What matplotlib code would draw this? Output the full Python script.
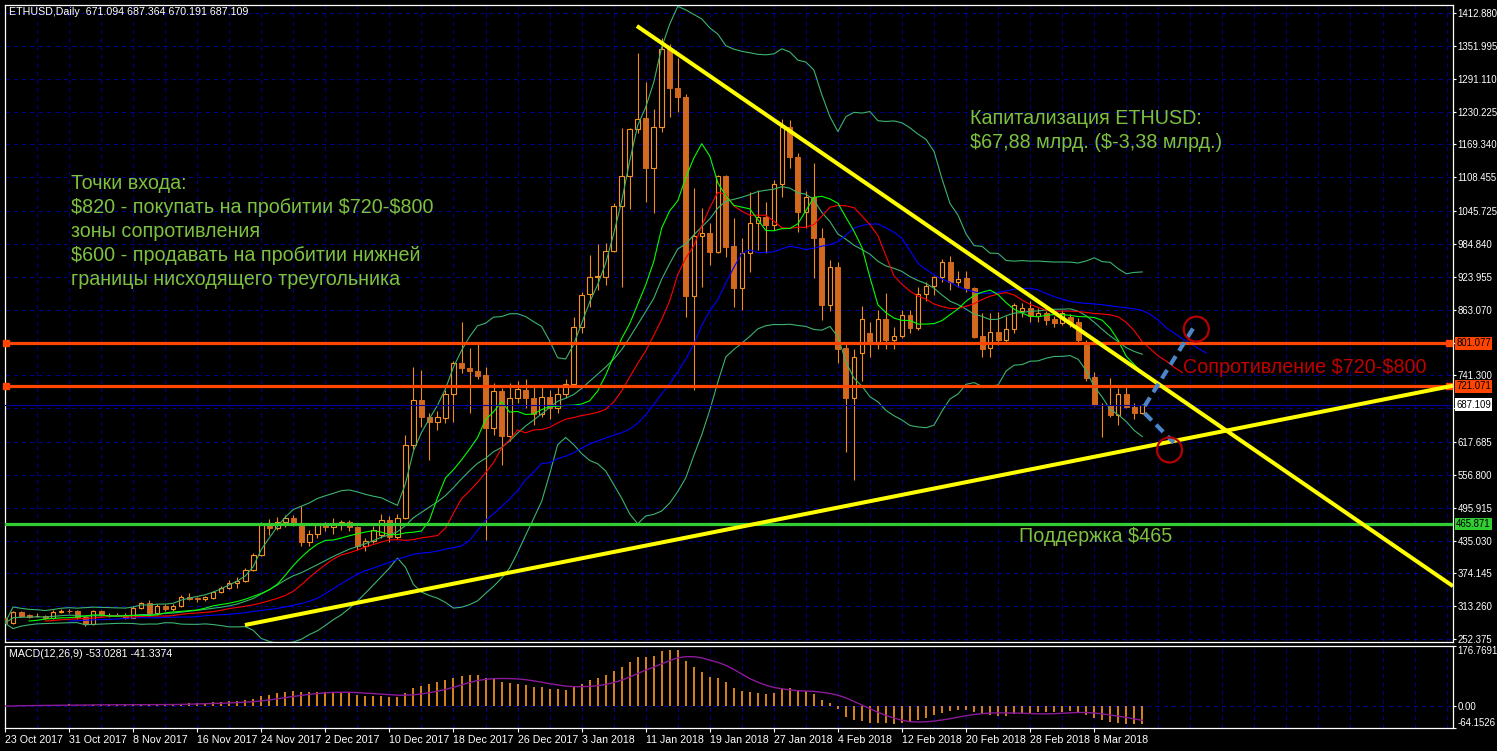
import numpy as np
import pandas as pd
import matplotlib
matplotlib.use("Agg")
import matplotlib.pyplot as plt
from matplotlib.patches import Ellipse
from matplotlib.transforms import blended_transform_factory

# ------------------------------------------------------------------ data
date_labels = ['23 Oct 2017', '31 Oct 2017', '8 Nov 2017', '16 Nov 2017', '24 Nov 2017',
               '2 Dec 2017', '10 Dec 2017', '18 Dec 2017', '26 Dec 2017', '3 Jan 2018',
               '11 Jan 2018', '19 Jan 2018', '27 Jan 2018', '4 Feb 2018', '12 Feb 2018',
               '20 Feb 2018', '28 Feb 2018', '8 Mar 2018']

opens = [291, 282, 302, 297, 295, 296, 292, 302, 305, 304, 293, 280, 304, 298, 297, 298, 292, 310, 319, 300,
         314, 308, 313, 331, 328, 326, 328, 339, 347, 356, 360, 380, 408, 465, 458, 470, 476, 468, 432, 448,
         464, 460, 466, 470, 460, 425, 434, 445, 473, 441, 477, 612, 695, 664, 655, 662, 707, 764, 755, 749,
         742, 643, 712, 629, 700, 714, 699, 670, 702, 681, 707, 725, 831, 892, 923, 923, 972, 1055, 1111, 1198,
         1218, 1126, 1202, 1346, 1274, 1257, 888, 999, 1006, 970, 1110, 981, 903, 968, 1023, 1035, 1020, 1096, 1202, 1146,
         1044, 1072, 996, 872, 942, 792, 699, 783, 820, 800, 846, 806, 815, 853, 829, 892, 907, 923, 952, 914,
         922, 903, 814, 792, 821, 806, 827, 860, 866, 852, 856, 846, 839, 849, 840, 801, 738, 686, 686, 668,
         707, 683, 671.094]
highs = [296, 305, 304, 299, 300, 298, 306, 308, 308, 306, 296, 306, 306, 301, 301, 300, 314, 322, 325, 317,
         317, 318, 335, 338, 331, 333, 342, 350, 362, 368, 384, 412, 470, 475, 478, 482, 482, 500, 455, 468,
         470, 476, 474, 474, 462, 440, 462, 485, 480, 485, 631, 757, 751, 671, 675, 714, 768, 840, 792, 801,
         757, 727, 718, 727, 730, 735, 720, 720, 715, 722, 735, 850, 896, 964, 985, 986, 1061, 1200, 1200, 1339,
         1285, 1235, 1366, 1355, 1329, 1263, 1088, 1051, 1023, 1113, 1113, 1033, 996, 1081, 1085, 1062, 1103, 1216, 1215, 1153,
         1083, 1135, 1014, 955, 951, 800, 790, 870, 840, 862, 894, 830, 862, 862, 905, 915, 925, 957, 962, 935,
         935, 905, 857, 857, 859, 852, 875, 875, 880, 866, 860, 852, 862, 855, 848, 806, 748, 690, 736, 718,
         723, 690, 687.364]
lows = [276, 280, 293, 292, 293, 289, 290, 300, 300, 290, 276, 279, 296, 294, 295, 289, 291, 308, 296, 298,
        305, 304, 312, 325, 322, 324, 327, 337, 345, 348, 358, 378, 406, 445, 455, 460, 462, 425, 425, 440,
        452, 448, 455, 452, 418, 415, 430, 440, 432, 438, 475, 605, 645, 584, 640, 653, 655, 745, 671, 735,
        436, 630, 575, 620, 690, 680, 650, 665, 660, 672, 700, 720, 820, 868, 900, 909, 970, 905, 1050, 1190,
        1063, 1042, 1192, 1220, 1229, 849, 714, 905, 946, 968, 960, 868, 862, 933, 973, 968, 1010, 1072, 1126, 1007,
        1015, 922, 844, 860, 764, 599, 547, 730, 775, 790, 790, 790, 810, 820, 825, 880, 890, 915, 900, 905,
        895, 810, 775, 775, 797, 800, 820, 850, 840, 840, 835, 830, 835, 830, 800, 730, 685, 627, 665, 649,
        680, 660, 670.191]
closes = [282, 302, 295, 294, 296, 291, 302, 305, 304, 293, 280, 304, 298, 297, 298, 292, 310, 319, 300, 314,
          309, 313, 331, 327, 327, 330, 339, 347, 356, 360, 380, 408, 465, 458, 470, 476, 468, 432, 448, 464,
          460, 466, 470, 460, 425, 434, 455, 473, 441, 477, 612, 695, 664, 655, 664, 707, 764, 755, 749, 740,
          643, 712, 629, 700, 716, 699, 670, 702, 681, 707, 725, 831, 890, 923, 925, 972, 1055, 1111, 1198, 1216,
          1126, 1202, 1346, 1274, 1257, 888, 999, 1006, 970, 1110, 979, 903, 968, 1023, 1035, 1020, 1096, 1202, 1146, 1044,
          1072, 996, 872, 942, 790, 699, 775, 846, 800, 846, 806, 815, 853, 829, 892, 907, 923, 952, 914, 919,
          903, 812, 790, 821, 806, 827, 871, 866, 852, 856, 844, 839, 856, 841, 806, 736, 686, 686, 668, 707,
          683, 671, 687.109]

price_ticks = [1412.880, 1351.995, 1291.110, 1230.225, 1169.340, 1108.455, 1045.725, 984.840, 923.955,
               863.070, 802.185, 741.300, 680.415, 617.685, 556.800, 495.915, 435.030, 374.145, 313.260, 252.375]
hidden_ticks = [802.185, 680.415]
resistance_levels = [801.077, 721.071]
support_level = 465.871
bid_price = 687.109
macd_ticks = [176.7691, 0.0, -64.1526]
macd_header_values = [-53.0281, -41.3374]

down_trend_days = [78.9, 180.8]
down_trend_prices = [1388.8, 350.6]
up_trend_days = [29.96, 180.8]
up_trend_prices = [278.6, 722.1]
scenario_up_days = [142.3, 148.35]
scenario_up_prices = [684.5, 828.5]
scenario_down_days = [142.3, 145.95]
scenario_down_prices = [671.0, 616.5]
circle_days = [148.75, 145.4]
circle_prices = [827.0, 603.0]

# ------------------------------------------------------------------ style
plt.rcParams['font.family'] = ['Liberation Sans', 'DejaVu Sans']
W, H = 1497, 751
BG = 'black'
GRID = '#00008B'
WICK = '#F08C1E'
UPEDGE = '#F7931E'
DOWN = '#D2691E'
OR = '#FF4500'
LIME_LINE = '#32CD32'
TXT_GREEN = '#7DC142'
BBC = '#3CB371'
TICKFS = 7.7
YTICKFS = 6.9

fig = plt.figure(figsize=(W / 100, H / 100), dpi=100, facecolor=BG)
ax = fig.add_axes([5 / W, 1 - 642 / H, 1448 / W, 637 / H], facecolor=BG)
axm = fig.add_axes([5 / W, 1 - 728 / H, 1448 / W, 82 / H], facecolor=BG, sharex=ax)

x_max = 180.8
ax.set_xlim(0, x_max)
ax.set_ylim(247.1, 1427.7)
axm.set_ylim(macd_ticks[2], macd_ticks[0])

for a in (ax, axm):
    for sp in a.spines.values():
        sp.set_color('white')
        sp.set_linewidth(0.9)
    for v in np.arange(4, x_max, 4):
        a.axvline(v, color=GRID, lw=0.75, ls=(0, (4, 4)), zorder=0)

for p in price_ticks:
    ax.axhline(p, color=GRID, lw=0.75, ls=(0, (4, 4)), zorder=0)
axm.axhline(0, color=GRID, lw=0.75, ls=(0, (4, 4)), zorder=0)

# ------------------------------------------------------------------ candles
o = np.array(opens, float)
h = np.array(highs, float)
l = np.array(lows, float)
c = np.array(closes, float)
days = np.arange(len(c))
up = c >= o
ax.vlines(days, l, h, color=WICK, lw=0.8, zorder=2)
lo = np.minimum(o, c)
hh = np.abs(c - o)
ax.bar(days[~up], hh[~up], bottom=lo[~up], width=0.62, color=DOWN, edgecolor=DOWN, lw=0.7, zorder=3)
ax.bar(days[up], hh[up], bottom=lo[up], width=0.56, facecolor='black', edgecolor=UPEDGE, lw=0.8, zorder=3)

# ------------------------------------------------------------------ indicators
s = pd.Series(c)
bb_mid = s.rolling(20, min_periods=1).mean()
bb_std = s.rolling(20, min_periods=1).std(ddof=0)
ax.plot(days, bb_mid, color=BBC, lw=0.8, zorder=4)
ax.plot(days, bb_mid + 2 * bb_std, color=BBC, lw=0.8, zorder=4)
ax.plot(days, bb_mid - 2 * bb_std, color=BBC, lw=0.8, zorder=4)

med = (pd.Series(h) + pd.Series(l)) / 2
jaw = med.ewm(alpha=1 / 13, adjust=False).mean()
teeth = med.ewm(alpha=1 / 8, adjust=False).mean()
lips = med.ewm(alpha=1 / 5, adjust=False).mean()
ax.plot(days + 8, jaw, color='#0000FF', lw=0.8, zorder=4)
ax.plot(days + 5, teeth, color='#FF0000', lw=0.8, zorder=4)
ax.plot(days + 3, lips, color='#00FF00', lw=0.8, zorder=4)

# ------------------------------------------------------------------ levels
bt = blended_transform_factory(ax.transAxes, ax.transData)
ax.axhline(bid_price, color='#0000A0', lw=0.8, zorder=4)
for lev in resistance_levels:
    ax.axhline(lev, color=OR, lw=2.3, zorder=5)
    ax.plot([0.001, 0.9975], [lev, lev], 's', ms=4, color=OR, transform=bt, clip_on=False, zorder=6)
ax.axhline(support_level, color=LIME_LINE, lw=2.3, zorder=5)

ax.plot(down_trend_days, down_trend_prices, color='#FFFF00', lw=2.9, zorder=6, solid_capstyle='butt')
ax.plot(up_trend_days, up_trend_prices, color='#FFFF00', lw=2.9, zorder=6, solid_capstyle='butt')
for xs, ys in ((scenario_up_days, scenario_up_prices), (scenario_down_days, scenario_down_prices)):
    ax.plot(xs, ys, color='#4A86C8', lw=3.0, ls=(0, (2.4, 1.5)), zorder=7, dash_capstyle='butt')
for cx, cy in zip(circle_days, circle_prices):
    ax.add_patch(Ellipse((cx, cy), 3.12, 46.3, fill=False, edgecolor='#B40000', lw=1.6, zorder=7))

# ------------------------------------------------------------------ axes ticks
ax.yaxis.tick_right()
ax.set_yticks(price_ticks)
ax.set_yticklabels(['' if p in hidden_ticks else f'{p:.3f}' for p in price_ticks])
ax.tick_params(axis='y', colors='white', labelsize=YTICKFS, length=2.5, width=0.8, pad=0.8)
ax.tick_params(axis='x', bottom=False, labelbottom=False)

box_kw = dict(boxstyle='square,pad=0.15', ec='none')
for lev in resistance_levels:
    ax.text(1.0022, lev, f'{lev:.3f}', transform=bt, va='center', ha='left', fontsize=YTICKFS,
            color='black', bbox=dict(fc=OR, **box_kw), clip_on=False, zorder=10)
ax.text(1.0022, bid_price, f'{bid_price:.3f}', transform=bt, va='center', ha='left', fontsize=YTICKFS,
        color='black', bbox=dict(fc='white', **box_kw), clip_on=False, zorder=10)
ax.text(1.0022, support_level, f'{support_level:.3f}', transform=bt, va='center', ha='left', fontsize=YTICKFS,
        color='black', bbox=dict(fc=LIME_LINE, **box_kw), clip_on=False, zorder=10)

# MACD panel
ema12 = s.ewm(span=12, adjust=False).mean()
ema26 = s.ewm(span=26, adjust=False).mean()
macd = ema12 - ema26
signal = macd.rolling(9, min_periods=1).mean()
axm.vlines(days, 0, macd, color='#FF9A1E', lw=1.2, zorder=2)
axm.plot(days, signal, color='#8B1A9B', lw=1.0, zorder=3)
axm.yaxis.tick_right()
axm.set_yticks(macd_ticks)
axm.set_yticklabels(['176.7691', '0.00', '-64.1526'])
axm.tick_params(axis='y', colors='white', labelsize=YTICKFS, length=2.5, width=0.8, pad=0.8)
tl = axm.get_yticklabels()
tl[0].set_va('top')
tl[2].set_va('bottom')
axm.set_xticks(np.arange(0, 8 * len(date_labels), 8))
axm.set_xticklabels(date_labels)
axm.tick_params(axis='x', colors='white', labelsize=TICKFS, length=3, width=0.8, pad=2)
for t in axm.get_xticklabels():
    t.set_ha('left')

# ------------------------------------------------------------------ texts
def fx(px):
    return (px - 5) / 1448


def fy(py):
    return 1 - (py - 5) / 637


ax.text(fx(9), fy(12), 'ETHUSD,Daily  %.3f %.3f %.3f %.3f' % (opens[-1], highs[-1], lows[-1], closes[-1]),
        transform=ax.transAxes, color='white', fontsize=TICKFS, va='center', ha='left', zorder=10,
        parse_math=False)
axm.text(fx(9), 1 - (654 - 646) / 82, 'MACD(12,26,9) %.4f %.4f' % tuple(macd_header_values),
         transform=axm.transAxes, color='white', fontsize=TICKFS, va='center', ha='left', zorder=10,
         parse_math=False)

entry_lines = ['Точки входа:', '$820 - покупать на пробитии $720-$800', 'зоны сопротивления',
               '$600 - продавать на пробитии нижней', 'границы нисходящего треугольника']
for i, line in enumerate(entry_lines):
    ax.text(fx(71), fy(189 + 24 * i), line, transform=ax.transAxes, color=TXT_GREEN, fontsize=14.2,
            va='baseline', ha='left', zorder=9, parse_math=False)
cap_lines = ['Капитализация ETHUSD:', '$67,88 млрд. ($-3,38 млрд.)']
for i, line in enumerate(cap_lines):
    ax.text(fx(970), fy(124 + 24 * i), line, transform=ax.transAxes, color=TXT_GREEN, fontsize=14.2,
            va='baseline', ha='left', zorder=9, parse_math=False)
ax.text(fx(1183), fy(373), 'Сопротивление $720-$800', transform=ax.transAxes, color='#C00000', fontsize=14.2,
        va='baseline', ha='left', zorder=9, parse_math=False)
ax.text(fx(1019), fy(542), 'Поддержка $465', transform=ax.transAxes, color=TXT_GREEN, fontsize=14.2,
        va='baseline', ha='left', zorder=9, parse_math=False)

fig.savefig('out.png', dpi=100, facecolor=BG)
